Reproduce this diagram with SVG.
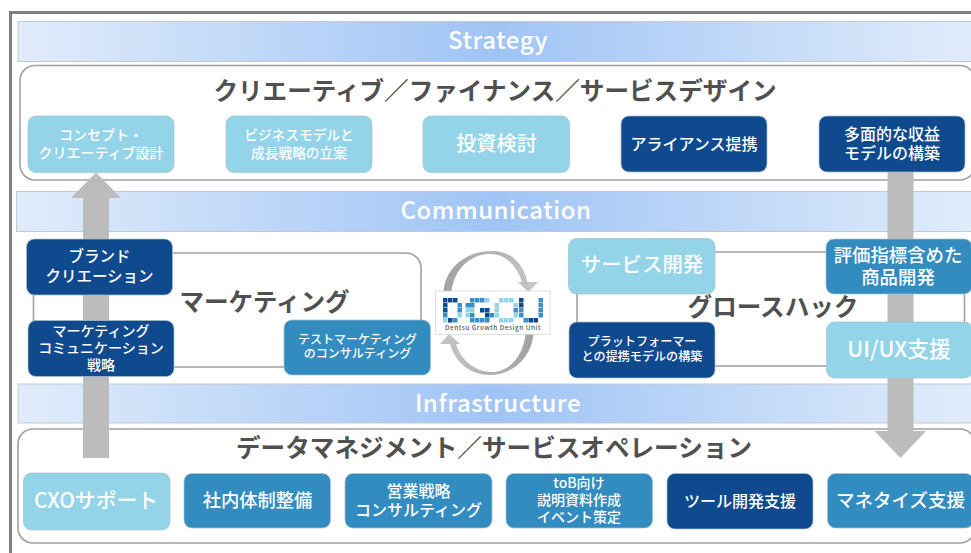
<svg xmlns="http://www.w3.org/2000/svg" width="971" height="553" viewBox="0 0 971 553">
<style>
text{font-family:"Noto Sans CJK JP","Noto Sans",sans-serif;text-anchor:middle}
.band{fill:url(#bandGrad);stroke:#c4c8cf;stroke-width:1}
.bandT{fill:#fff;font-size:24px;font-weight:500;letter-spacing:.55px}
.panel{fill:none;stroke:#a0a0a0;stroke-width:1.6}
.title{fill:#505050;font-size:24.6px;font-weight:700}
.n{stroke:#a9c0cf;stroke-width:.7}
.l{fill:#93d4e8}.m{fill:#338cc0}.d{fill:#0f4a8f}
.w{fill:#fff;font-weight:500}
.arrow{fill:#bcbcbc}
.t1{fill:#0f4a8f}.t2{fill:#3a8fc4}.t3{fill:#93d4e8}
</style>
<defs>
<linearGradient id="bandGrad" x1="0" x2="1" y1="0" y2="0"><stop offset="0" stop-color="#e1ecfb"/><stop offset=".5" stop-color="#9fc4f5"/><stop offset="1" stop-color="#e1ecfb"/></linearGradient>
<linearGradient id="arcA" x1="0" x2="1" y1="0" y2="0"><stop offset="0" stop-color="#a2a2a2"/><stop offset="1" stop-color="#c6c6c6"/></linearGradient>
<linearGradient id="arcB" x1="1" x2="0" y1="0" y2="0"><stop offset="0" stop-color="#a2a2a2"/><stop offset="1" stop-color="#c6c6c6"/></linearGradient>
<rect id="tile" width="4.5" height="4.5"/>
</defs>
<rect width="971" height="553" fill="#fff"/>
<path d="M10.5 553V12.5H971" fill="none" stroke="#808080" stroke-width="3"/>

<g id="band-strategy"><rect class="band" x="18" y="21.5" width="954" height="40"/><text class="bandT" x="498" y="49">Strategy</text></g>
<g id="band-communication"><rect class="band" x="16.5" y="191.5" width="956" height="40"/><text class="bandT" x="496" y="219">Communication</text></g>
<g id="band-infrastructure"><rect class="band" x="18" y="384" width="954" height="39"/><text class="bandT" x="498" y="411.5">Infrastructure</text></g>

<g id="panel-creative"><rect class="panel" x="20" y="65.5" width="955" height="114.5" rx="15"/><text class="title" x="495" y="100">クリエーティブ／ファイナンス／サービスデザイン</text></g>
<g id="panel-marketing"><rect class="panel" x="33.5" y="253" width="387.5" height="114" rx="15"/><text class="title" x="264.5" y="311">マーケティング</text></g>
<g id="panel-growth"><rect class="panel" x="577" y="252" width="387.5" height="114" rx="15"/><text class="title" x="773" y="316">グロースハック</text></g>
<g id="panel-data"><rect class="panel" x="18" y="429" width="957" height="114" rx="15"/><text class="title" x="494" y="457">データマネジメント／サービスオペレーション</text></g>

<g id="connectors">
<path class="arrow" d="M83 458V198H71L96 172.5L121 198H109V458Z"/>
<path class="arrow" d="M887.5 172H913.5V431H926L900.5 458L874.5 431H887.5Z"/>
<path fill="url(#arcA)" d="M443.5 292C445 268 466 251 492 251C511 251 523 263 527.5 282H538L528.5 292L518 282H522C517 266 506 254 490 254C470 254 453.5 270 451.5 292Z"/>
<path fill="url(#arcB)" d="M533.5 334C531.5 358 512 375 490 375C470 375 455 362 450 344H440L449 334L460 344H456C461 360 475 372 492 372C510 372 523.5 355 525.5 334Z"/>
</g>

<g id="logo">
<rect x="435.7" y="291" width="114.3" height="43.3" fill="#fff" stroke="#cfcfcf" stroke-width=".7"/>
<g id="logo-d1">
<use href="#tile" class="t1" x="443" y="298"/><use href="#tile" class="t1" x="448" y="298"/><use href="#tile" class="t1" x="453" y="298"/>
<use href="#tile" class="t1" x="443" y="303"/><use href="#tile" class="t1" x="443" y="308"/><use href="#tile" class="t2" x="443" y="313"/>
<use href="#tile" class="t2" x="457.5" y="303"/><use href="#tile" class="t2" x="457.5" y="308"/><use href="#tile" class="t3" x="457.5" y="313"/>
<use href="#tile" class="t3" x="443" y="318"/><use href="#tile" class="t1" x="448" y="318"/><use href="#tile" class="t2" x="453" y="318"/>
</g>
<g id="logo-g">
<use href="#tile" class="t2" x="470" y="298"/><use href="#tile" class="t2" x="475" y="298"/><use href="#tile" class="t2" x="480" y="298"/><use href="#tile" class="t3" x="485" y="298"/>
<use href="#tile" class="t2" x="465.5" y="303"/><use href="#tile" class="t3" x="465.5" y="308"/><use href="#tile" class="t3" x="465.5" y="313"/>
<use href="#tile" class="t2" x="470" y="303"/><use href="#tile" class="t3" x="470" y="308"/><use href="#tile" class="t2" x="470" y="313"/>
<use href="#tile" class="t1" x="480" y="308"/><use href="#tile" class="t1" x="485" y="308"/><use href="#tile" class="t1" x="485" y="313"/><use href="#tile" class="t2" x="489.5" y="313"/>
<use href="#tile" class="t2" x="470" y="318"/><use href="#tile" class="t2" x="475" y="318"/><use href="#tile" class="t2" x="480" y="318"/><use href="#tile" class="t2" x="485" y="318"/>
</g>
<g id="logo-d2">
<use href="#tile" class="t3" x="499" y="298"/><use href="#tile" class="t3" x="504" y="298"/><use href="#tile" class="t3" x="509" y="298"/>
<use href="#tile" class="t3" x="494.5" y="303"/><use href="#tile" class="t3" x="494.5" y="308"/><use href="#tile" class="t3" x="494.5" y="313"/>
<use href="#tile" class="t3" x="513.5" y="303"/><use href="#tile" class="t2" x="513.5" y="308"/><use href="#tile" class="t3" x="513.5" y="313"/>
<use href="#tile" class="t3" x="499" y="318"/><use href="#tile" class="t3" x="504" y="318"/><use href="#tile" class="t3" x="509" y="318"/>
</g>
<g id="logo-u">
<use href="#tile" class="t1" x="519" y="298"/><use href="#tile" class="t1" x="519" y="303"/><use href="#tile" class="t2" x="519" y="308"/><use href="#tile" class="t2" x="519" y="313"/><use href="#tile" class="t2" x="523.5" y="318"/><use href="#tile" class="t1" x="528.5" y="318"/><use href="#tile" class="t1" x="533.5" y="318"/>
<use href="#tile" class="t2" x="538.5" y="298"/><use href="#tile" class="t2" x="538.5" y="303"/><use href="#tile" class="t2" x="538.5" y="308"/><use href="#tile" class="t2" x="538.5" y="313"/>
</g>
<text x="493" y="330" font-size="6.4" font-weight="500" fill="#555" letter-spacing=".55">Dentsu Growth Design Unit</text>
</g>

<g id="n-concept"><rect class="n l" x="28" y="116" width="146" height="56.5" rx="8"/><text class="w" font-size="14" x="101" y="140">コンセプト・</text><text class="w" font-size="14" x="101" y="157.5">クリエーティブ設計</text></g>
<g id="n-business"><rect class="n l" x="226" y="116" width="146" height="56.5" rx="8"/><text class="w" font-size="13.7" x="299" y="140">ビジネスモデルと</text><text class="w" font-size="13.7" x="299" y="157.5">成長戦略の立案</text></g>
<g id="n-invest"><rect class="n l" x="423" y="116" width="146.5" height="56.5" rx="8"/><text class="w" font-size="20.2" x="496.5" y="150.5">投資検討</text></g>
<g id="n-alliance"><rect class="n d" x="621" y="116" width="146" height="56" rx="8"/><text class="w" font-size="16" x="694" y="149.5">アライアンス提携</text></g>
<g id="n-revenue"><rect class="n d" x="819" y="116" width="146" height="56" rx="8"/><text class="w" font-size="16" x="892" y="139.5">多面的な収益</text><text class="w" font-size="16" x="892" y="159">モデルの構築</text></g>

<g id="n-brand"><rect class="n d" x="26.5" y="239" width="146" height="56" rx="8"/><text class="w" font-size="15.5" x="99.5" y="262">ブランド</text><text class="w" font-size="15.5" x="99.5" y="281.5">クリエーション</text></g>
<g id="n-mktcomm"><rect class="n d" x="28" y="320.5" width="146" height="56" rx="8"/><text class="w" font-size="14" x="101" y="336">マーケティング</text><text class="w" font-size="14" x="101" y="353">コミュニケーション</text><text class="w" font-size="14" x="101" y="370">戦略</text></g>
<g id="n-testmkt"><rect class="n m" x="284" y="320" width="146.5" height="55" rx="8"/><text class="w" font-size="12" x="357.5" y="343.5">テストマーケティング</text><text class="w" font-size="12" x="357.5" y="358">のコンサルティング</text></g>

<g id="n-service"><rect class="n l" x="568.5" y="238.5" width="146.5" height="55.5" rx="8"/><text class="w" font-size="20.4" x="642" y="272">サービス開発</text></g>
<g id="n-metrics"><rect class="n m" x="826" y="239" width="146" height="55" rx="8"/><text class="w" font-size="18.4" x="898" y="261.5">評価指標含めた</text><text class="w" font-size="18.4" x="898" y="284">商品開発</text></g>
<g id="n-platform"><rect class="n d" x="569" y="322" width="146" height="56" rx="8"/><text class="w" font-size="12.1" x="642" y="346">プラットフォーマー</text><text class="w" font-size="12.1" x="642" y="361">との提携モデルの構築</text></g>
<g id="n-uiux"><rect class="n l" x="826.5" y="322" width="146" height="56" rx="8"/><text class="w" font-size="21.8" x="899" y="357">UI/UX支援</text></g>

<g id="n-cxo"><rect class="n l" x="23.5" y="473" width="146.5" height="57" rx="8"/><text class="w" font-size="20.8" x="96" y="507.5">CXOサポート</text></g>
<g id="n-internal"><rect class="n m" x="184" y="473.5" width="146.5" height="54.5" rx="8"/><text class="w" font-size="18.3" x="257.5" y="507">社内体制整備</text></g>
<g id="n-sales"><rect class="n m" x="345" y="473.5" width="147" height="54.5" rx="8"/><text class="w" font-size="16" x="418.5" y="496.5">営業戦略</text><text class="w" font-size="16" x="418.5" y="515.5">コンサルティング</text></g>
<g id="n-tob"><rect class="n m" x="506" y="473.5" width="146.5" height="54.5" rx="8"/><text class="w" font-size="14" x="579" y="488">toB向け</text><text class="w" font-size="14" x="579" y="505">説明資料作成</text><text class="w" font-size="14" x="579" y="522">イベント策定</text></g>
<g id="n-tools"><rect class="n d" x="667" y="473.5" width="146" height="55.5" rx="8"/><text class="w" font-size="16" x="740" y="506.5">ツール開発支援</text></g>
<g id="n-monetize"><rect class="n m" x="827.5" y="473.5" width="146" height="54.5" rx="8"/><text class="w" font-size="18.5" x="900.5" y="507">マネタイズ支援</text></g>
</svg>
